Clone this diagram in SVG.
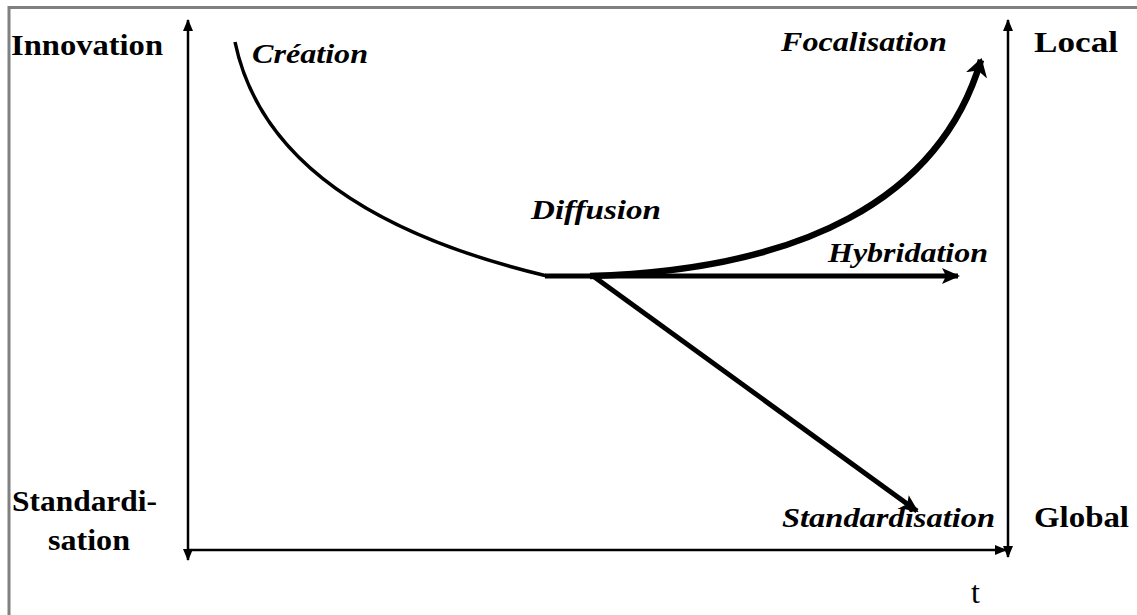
<svg xmlns="http://www.w3.org/2000/svg" width="1137" height="615" viewBox="0 0 1137 615">
<style>
.lbl{font-family:"Liberation Serif","Times New Roman",serif;fill:#000}
.b{font-weight:bold;font-size:30px}
.bi{font-weight:bold;font-style:italic;font-size:27px}
.r{font-size:32px}
.axis{stroke:#000;stroke-width:2.5;fill:none}
.thick{stroke:#000;stroke-width:5;fill:none}
.thin{stroke:#000;stroke-width:3.5;fill:none}
</style>
<defs>
<marker id="ax" markerUnits="userSpaceOnUse" viewBox="0 0 12 10" refX="11" refY="5" markerWidth="12" markerHeight="10" orient="auto-start-reverse">
<path d="M0,0 L12,5 L0,10 z" fill="#000"/>
</marker>
<marker id="big" markerUnits="userSpaceOnUse" viewBox="0 0 18 18" refX="16" refY="9" markerWidth="18" markerHeight="18" orient="auto">
<path d="M0,1 L18,9 L0,17 L4,9 z" fill="#000"/>
</marker>
<marker id="focal" markerUnits="userSpaceOnUse" viewBox="0 0 18 24" refX="16" refY="12" markerWidth="18" markerHeight="24" orient="auto">
<path d="M0,1 L18,12 L0,23 L5,12 z" fill="#000"/>
</marker>
</defs>
<rect x="0" y="0" width="1137" height="615" fill="#fff"/>
<g id="frame">
<path d="M9,615 L9,7.5 L1137,7.5" stroke="#808080" stroke-width="3" fill="none"/>
</g>
<g id="connectors">
<line class="axis" x1="188" y1="20" x2="188" y2="560" marker-start="url(#ax)" marker-end="url(#ax)"/>
<line class="axis" x1="188" y1="550" x2="1006" y2="550" marker-end="url(#ax)"/>
<line class="axis" x1="1008" y1="20" x2="1008" y2="557" marker-start="url(#ax)" marker-end="url(#ax)"/>
<path class="thin" d="M235,42 Q270,210 547,276"/>
<path class="thick" d="M545,276 L958,276" marker-end="url(#big)"/>
<path class="thick" style="stroke-width:6.5" d="M590,276 C800,270 940,200 981,60" marker-end="url(#focal)"/>
<path class="thick" d="M593,276 L917,511" marker-end="url(#big)"/>
</g>
<g id="innovation"><text class="lbl b" x="11" y="55" textLength="152" lengthAdjust="spacingAndGlyphs">Innovation</text></g>
<g id="creation"><text class="lbl bi" x="252" y="63" textLength="116" lengthAdjust="spacingAndGlyphs">Création</text></g>
<g id="focalisation"><text class="lbl bi" x="781" y="51" textLength="166" lengthAdjust="spacingAndGlyphs">Focalisation</text></g>
<g id="local"><text class="lbl b" x="1034" y="52" textLength="84" lengthAdjust="spacingAndGlyphs">Local</text></g>
<g id="diffusion"><text class="lbl bi" x="531" y="219" textLength="130" lengthAdjust="spacingAndGlyphs">Diffusion</text></g>
<g id="hybridation"><text class="lbl bi" x="828" y="262" textLength="160" lengthAdjust="spacingAndGlyphs">Hybridation</text></g>
<g id="standardisation-end"><text class="lbl bi" x="782" y="527" textLength="213" lengthAdjust="spacingAndGlyphs">Standardisation</text></g>
<g id="global"><text class="lbl b" x="1034" y="527" textLength="95" lengthAdjust="spacingAndGlyphs">Global</text></g>
<g id="standardisation-axis">
<text class="lbl b" x="12" y="511" textLength="145" lengthAdjust="spacingAndGlyphs">Standardi-</text>
<text class="lbl b" x="48" y="550" textLength="82" lengthAdjust="spacingAndGlyphs">sation</text>
</g>
<g id="t-label"><text class="lbl r" x="971" y="603">t</text></g>
</svg>
